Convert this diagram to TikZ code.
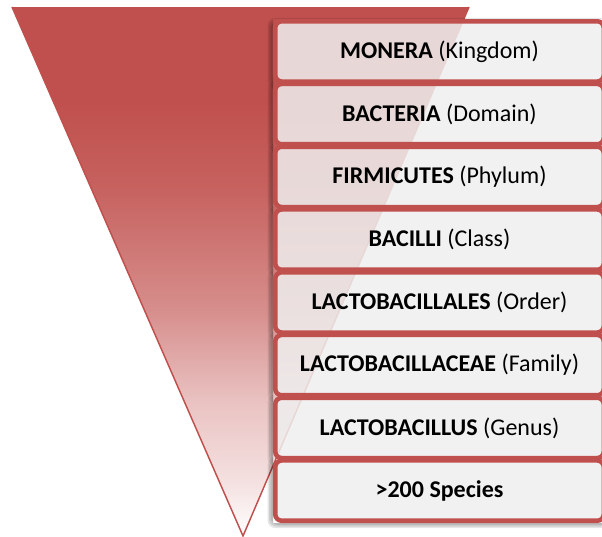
\documentclass[tikz,border=0pt]{standalone}
\usepackage{fontspec}
\setmainfont{Carlito}
\definecolor{tred}{RGB}{192,80,77}
\definecolor{boxfill}{RGB}{239,239,239}
\pgfdeclareverticalshading{trishade}{100bp}{color(0bp)=(white); color(25bp)=(white); color(30bp)=(tred!17!white); color(37.5bp)=(tred!34!white); color(46.5bp)=(tred!65!white); color(58bp)=(tred!90!white); color(66bp)=(tred); color(100bp)=(tred)}
\tikzset{
  rankbox/.style={rectangle, rounded corners=4.9pt, draw=tred, line width=3.4pt,
    fill=boxfill, fill opacity=0.85, text opacity=1,
    minimum width=246.4pt, minimum height=45.2pt, inner sep=0pt,
    font=\fontsize{18}{21}\selectfont, text=black},
  shadowlayer/.style={fill=black, fill opacity=0.1, rounded corners=6pt},
  triedge/.style={draw=tred, line width=1.1pt}
}
\begin{document}
\begin{tikzpicture}[x=0.75pt, y=-0.75pt]
\useasboundingbox (0,0) rectangle (602,536);
\coordinate (tl) at (12,7);
\coordinate (tr) at (469,7);
\coordinate (ap) at (243,536);
\coordinate (stackTL) at (273,19);
\coordinate (stackBR) at (610,523);
\shade[shading=trishade] (tl) -- (tr) -- (ap) -- cycle;
\draw[triedge] (tl) -- (ap) -- (tr);
\begin{scope}[even odd rule]
\clip (-10,-10) rectangle (620,550) (stackTL) rectangle (stackBR);
\foreach \yc in {51.4,114.1,176.9,239.6,302.4,365.1,427.9,490.6}{
  \foreach \s in {0,1.5,3}{
    \fill[shadowlayer] (270.5-\s,\yc-30.5-\s) rectangle (608,\yc+34.5+\s);
  }
}
\end{scope}
\node[rankbox] (b1) at (439.5,51.4) {\textbf{MONERA} (Kingdom)};
\node[rankbox] (b2) at (439.5,114.1) {\textbf{BACTERIA} (Domain)};
\node[rankbox] (b3) at (439.5,176.9) {\textbf{FIRMICUTES} (Phylum)};
\node[rankbox] (b4) at (439.5,239.6) {\textbf{BACILLI} (Class)};
\node[rankbox] (b5) at (439.5,302.4) {\textbf{LACTOBACILLALES} (Order)};
\node[rankbox] (b6) at (439.5,365.1) {\textbf{LACTOBACILLACEAE} (Family)};
\node[rankbox] (b7) at (439.5,427.9) {\textbf{LACTOBACILLUS} (Genus)};
\node[rankbox] (b8) at (439.5,490.6) {\textbf{>200 Species}};
\end{tikzpicture}
\end{document}
